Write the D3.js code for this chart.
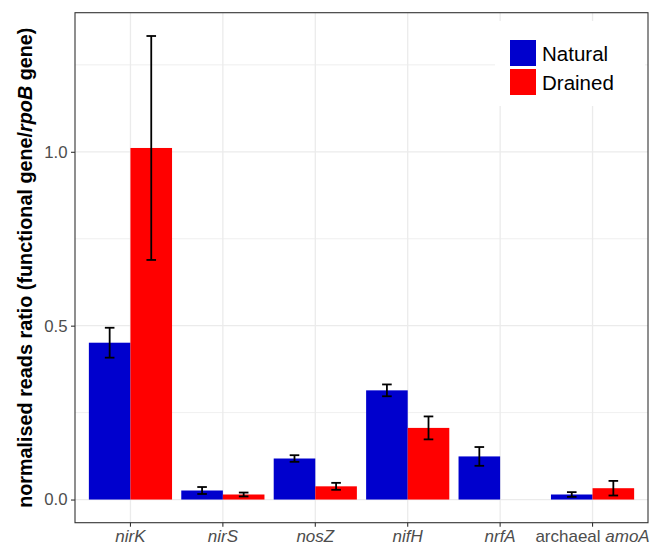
<!DOCTYPE html>
<html><head><meta charset="utf-8">
<script src="https://cdn.jsdelivr.net/npm/d3@7"></script>
<style>body{margin:0;background:#fff}svg{display:block}text{font-family:"Liberation Sans",Arial,sans-serif}</style>
</head><body><svg id="c" width="655" height="547"></svg>
<script>
const categories = ["nirK","nirS","nosZ","nifH","nrfA","archaeal amoA"];
const series = ["Natural","Drained"];
const naturalMean = [0.451,0.026,0.118,0.314,0.124,0.0145];
const naturalSE   = [0.043,0.010,0.0095,0.017,0.027,0.0068];
const drainedMean = [1.011,0.0145,0.038,0.206,null,0.0326];
const drainedSE   = [0.322,0.0056,0.010,0.033,null,0.021];
const yTicks = [0,0.5,1.0];
const yMinorTicks = [0.25,0.75,1.25];
const colors = ["#0000CD","#FF0000"];

const svg = d3.select("#c");
const L=75, R=648, T=12.7, B=522.7;
const x = d3.scaleBand().domain(categories).range([L,R]).paddingInner(0).paddingOuter(0.1);
const x1 = d3.scaleBand().domain(series).range([x.bandwidth()*0.05, x.bandwidth()*0.95]);
const y = d3.scaleLinear().domain([-0.0666,1.4]).range([B,T]);
const col = d3.scaleOrdinal().domain(series).range(colors);

const rows = [];
categories.forEach((c,i)=>{
  rows.push({cat:c, s:"Natural", v:naturalMean[i], se:naturalSE[i]});
  rows.push({cat:c, s:"Drained", v:drainedMean[i], se:drainedSE[i]});
});

svg.append("rect").attr("x",L).attr("y",T).attr("width",R-L).attr("height",B-T).attr("fill","#fff");
const g = svg.append("g");
g.selectAll(".mn").data(yMinorTicks).enter().append("line")
  .attr("x1",L).attr("x2",R).attr("y1",d=>y(d)).attr("y2",d=>y(d))
  .attr("stroke","#EBEBEB").attr("stroke-width",0.8);
g.selectAll(".mj").data(yTicks).enter().append("line")
  .attr("x1",L).attr("x2",R).attr("y1",d=>y(d)).attr("y2",d=>y(d))
  .attr("stroke","#EBEBEB").attr("stroke-width",1.3);
g.selectAll(".vx").data(categories).enter().append("line")
  .attr("x1",d=>x(d)+x.bandwidth()/2).attr("x2",d=>x(d)+x.bandwidth()/2).attr("y1",T).attr("y2",B)
  .attr("stroke","#EBEBEB").attr("stroke-width",1.3);

const valid = rows.filter(d=>d.v!=null);
svg.append("g").selectAll("rect").data(valid).enter().append("rect")
  .attr("x",d=>x(d.cat)+x1(d.s)).attr("width",x1.bandwidth())
  .attr("y",d=>y(d.v)).attr("height",d=>y(0)-y(d.v))
  .attr("fill",d=>col(d.s));

const eb = svg.append("g").attr("stroke","#000").attr("stroke-width",1.8).attr("fill","none");
valid.forEach(d=>{
  const cx = x(d.cat)+x1(d.s)+x1.bandwidth()/2, hw=4.8;
  eb.append("line").attr("x1",cx).attr("x2",cx).attr("y1",y(d.v+d.se)).attr("y2",y(d.v-d.se));
  eb.append("line").attr("x1",cx-hw).attr("x2",cx+hw).attr("y1",y(d.v+d.se)).attr("y2",y(d.v+d.se));
  eb.append("line").attr("x1",cx-hw).attr("x2",cx+hw).attr("y1",y(d.v-d.se)).attr("y2",y(d.v-d.se));
});

const lg = svg.append("g");
lg.append("rect").attr("x",495).attr("y",21).attr("width",150).attr("height",85).attr("fill","#fff");
series.forEach((s,i)=>{
  lg.append("rect").attr("x",510).attr("y",40+i*29).attr("width",26).attr("height",26).attr("fill",col(s));
  lg.append("text").attr("x",542).attr("y",60.5+i*29).attr("font-size",20.5).attr("fill","#000").text(s);
});

svg.append("rect").attr("x",L).attr("y",T).attr("width",R-L).attr("height",B-T)
  .attr("fill","none").attr("stroke","#333").attr("stroke-width",1.1);

const ya = svg.append("g").attr("transform",`translate(${L},0)`)
  .call(d3.axisLeft(y).tickValues(yTicks).tickFormat(d3.format(".1f")).tickSize(4).tickPadding(3.5));
ya.select(".domain").remove();
ya.selectAll(".tick line").attr("stroke","#333").attr("stroke-width",1.1);
ya.selectAll(".tick text").attr("font-size",16.8).attr("fill","#4D4D4D").attr("font-family","Liberation Sans, Arial, sans-serif");

const xa = svg.append("g").attr("transform",`translate(0,${B})`)
  .call(d3.axisBottom(x).tickSize(4).tickPadding(4).tickFormat(()=>""));
xa.select(".domain").remove();
xa.selectAll(".tick line").attr("stroke","#333").attr("stroke-width",1.1);
xa.selectAll(".tick text").each(function(d){
  const t = d3.select(this).attr("font-size",17).attr("fill","#4D4D4D").attr("font-family","Liberation Sans, Arial, sans-serif").attr("y",19.5).attr("dy",null);
  if(d==="archaeal amoA"){
    t.append("tspan").text("archaeal ");
    t.append("tspan").attr("font-style","italic").text("amoA");
  } else {
    t.append("tspan").attr("font-style","italic").text(d);
  }
});

const yt = svg.append("text").attr("transform",`translate(32,${(T+B)/2}) rotate(-90)`)
  .attr("text-anchor","middle").attr("font-size",19.8).attr("font-weight","bold").attr("fill","#000");
yt.append("tspan").text("normalised reads ratio (functional gene/");
yt.append("tspan").attr("font-style","italic").text("rpoB");
yt.append("tspan").text(" gene)");
</script></body></html>
